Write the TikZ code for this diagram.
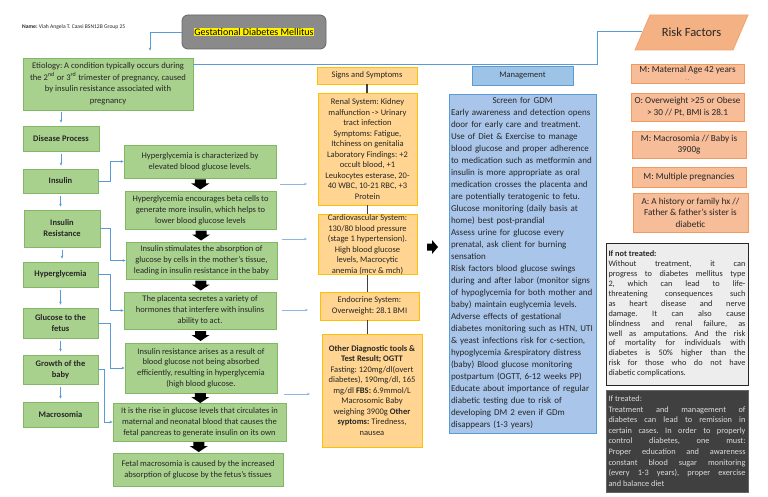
\documentclass[tikz,border=0pt]{standalone}
\usepackage{fontspec}
\setmainfont{Carlito}
\usetikzlibrary{arrows.meta,shapes.geometric,calc}
\frenchspacing
\definecolor{grn}{HTML}{A9D18E}
\definecolor{grnD}{HTML}{82B863}
\definecolor{org}{HTML}{FFD591}
\definecolor{orgD}{HTML}{FFC000}
\definecolor{blu}{HTML}{A9C6EA}
\definecolor{bluH}{HTML}{9DC3E6}
\definecolor{bluD}{HTML}{5B9BD5}
\definecolor{sal}{HTML}{F7BC98}
\definecolor{salD}{HTML}{F09A5E}
\definecolor{salP}{HTML}{F4B183}
\definecolor{salPD}{HTML}{F2A36E}
\definecolor{txt}{HTML}{262626}
\definecolor{conn}{HTML}{5B9BD5}
\definecolor{connL}{HTML}{8DB6E2}
\definecolor{dgr}{HTML}{404040}
\definecolor{lgr}{HTML}{EDEDED}
\definecolor{titg}{HTML}{8A8A8A}
\definecolor{titgD}{HTML}{666666}
\definecolor{trtxt}{HTML}{DCDCDC}
\setlength{\fboxsep}{0.6pt}
\tikzset{
  every node/.style={inner sep=0pt, text=txt},
  gbox/.style={draw=grnD, fill=grn, line width=0.8pt, align=center, font=\fontsize{8.5}{10.8}\selectfont},
  gboxb/.style={gbox, font=\bfseries\fontsize{8.5}{11}\selectfont},
  obox/.style={draw=orgD, fill=org, line width=0.9pt, align=center, font=\fontsize{8.5}{10.5}\selectfont},
  mbox/.style={draw=bluD, fill=blu, line width=0.8pt},
  rbox/.style={draw=salD, fill=sal, line width=0.8pt, align=center, font=\fontsize{9.2}{11.5}\selectfont},
  barr/.style={draw=conn, line width=0.7pt, -{Stealth[length=3pt,width=2.6pt]}},
  barrL/.style={draw=connL, line width=0.7pt, -{Stealth[length=3pt,width=2.6pt]}},
  bline/.style={draw=conn, line width=0.8pt},
  gline/.style={draw=dgr, line width=1.6pt},
  darr/.pic={\fill[black] (-5.5,-5) -- (5.5,-5) -- (5.5,-1) -- (9,-1) -- (0,5) -- (-9,-1) -- (-5.5,-1) -- cycle;}
}
\begin{document}
\begin{tikzpicture}[x=1pt,y=-1pt]
\useasboundingbox (0,0) rectangle (768,497);
\fill[white] (0,0) rectangle (768,497);

% name
\node[anchor=west, font=\fontsize{5.6}{6}\selectfont] (nm) at (22,27) {\textbf{Name:} Viah Angela T. Caasi BSN12B Group 25};

% title
\node[draw=titgD, fill=titg, line width=0.8pt, rounded corners=6pt, minimum width=144pt, minimum height=34pt, font=\fontsize{10}{12}\selectfont, text=black] (tit) at (254,32) {\colorbox{yellow}{Gestational Diabetes Mellitus}};

% left column
\node[gbox, minimum width=170pt, minimum height=52pt, font=\fontsize{8.6}{11.5}\selectfont] (ety) at (108,84) {Etiology: A condition typically occurs during\\the 2\textsuperscript{nd} or 3\textsuperscript{rd} trimester of pregnancy, caused\\by insulin resistance associated with\\pregnancy};
\node[gboxb, minimum width=76pt, minimum height=25pt] (dp) at (61,138.5) {Disease Process};
\node[gboxb, minimum width=75pt, minimum height=24pt] (ins) at (60.5,181) {Insulin};
\node[gboxb, minimum width=76pt, minimum height=37pt] (ir) at (62,228.5) {Insulin\\Resistance};
\node[gboxb, minimum width=75pt, minimum height=25pt] (hyp) at (60.5,274.5) {Hyperglycemia};
\node[gboxb, minimum width=75pt, minimum height=30pt] (gtf) at (60.5,323) {Glucose to the\\fetus};
\node[gboxb, minimum width=75pt, minimum height=29pt] (gob) at (60.5,369.5) {Growth of the\\baby};
\node[gboxb, minimum width=75pt, minimum height=25pt] (mac) at (60.5,414.5) {Macrosomia};

% right green column
\node[gbox, minimum width=152pt, minimum height=33pt] (r1) at (200,161.5) {Hyperglycemia is characterized by\\elevated blood glucose levels.};
\node[gbox, minimum width=151pt, minimum height=38pt] (r2) at (200.5,210) {Hyperglycemia encourages beta cells to\\generate more insulin, which helps to\\lower blood glucose levels};
\node[gbox, minimum width=151pt, minimum height=37pt] (r3) at (201.5,260.5) {Insulin stimulates the absorption of\\glucose by cells in the mother’s tissue,\\leading in insulin resistance in the baby};
\node[gbox, minimum width=152pt, minimum height=37pt] (r4) at (200,310.5) {The placenta secretes a variety of\\hormones that interfere with insulins\\ability to act.};
\node[gbox, minimum width=152pt, minimum height=50pt] (r5) at (201,368) {Insulin resistance arises as a result of\\blood glucose not being absorbed\\efficiently, resulting in hyperglycemia\\(high blood glucose.};
\node[gbox, minimum width=173pt, minimum height=38pt] (r6) at (199.5,422) {It is the rise in glucose levels that circulates in\\maternal and neonatal blood that causes the\\fetal pancreas to generate insulin on its own};
\node[gbox, minimum width=170pt, minimum height=33pt] (r7) at (198,469.5) {Fetal macrosomia is caused by the increased\\absorption of glucose by the fetus’s tissues};

% block down arrows
\pic at ($(r1.south)!0.5!(r2.north)$) {darr};
\pic at ($(r2.south)!0.5!(r3.north)$) {darr};
\pic at ($(r3.south)!0.5!(r4.north)$) {darr};
\pic at ($(r4.south)!0.5!(r5.north)$) {darr};
\pic at ($(r5.south)!0.5!(r6.north)$) {darr};
\pic at ($(r6.south)!0.5!(r7.north)$) {darr};

% connectors left column
\draw[barr, shorten >=7pt] (tit.west) -| ([xshift=42pt]ety.north);
\draw[barr, shorten <=2pt, shorten >=3pt] (ety.south -| dp.north) -- (dp.north);
\draw[barr, shorten <=3pt, shorten >=3pt] (dp.south) -- (dp.south |- ins.north);
\draw[barr, shorten <=3pt, shorten >=3pt] (ins.south) -- (ins.south |- ir.north);
\draw[barr, shorten <=3pt, shorten >=3pt] (ir.south) -- (ir.south |- hyp.north);
\draw[barr, shorten <=3pt, shorten >=3pt] (hyp.south) -- (hyp.south |- gtf.north);
\draw[barr, shorten <=3pt, shorten >=3pt] (gtf.south) -- (gtf.south |- gob.north);
\draw[barr, shorten <=3pt, shorten >=3pt] (gob.south) -- (gob.south |- mac.north);

\draw[barr] (ins.east) -- ([xshift=12pt]ins.east) |- (r1.west);
\draw[barr] (ir.east) -- ([xshift=10pt]ir.east) |- (r3.west);
\draw[barr] (hyp.east) -- ([xshift=12pt]hyp.east) |- (r4.west);
\draw[barr] (gtf.east) -- ([xshift=12pt]gtf.east) |- (r5.west);
\draw[barr] (gob.east) -- ([xshift=6pt]gob.east) |- (r6.west);

% floating arrows
\coordinate (f1a) at (280,184); \coordinate (f1b) at (307,184);
\coordinate (f2a) at (282,239); \coordinate (f2b) at (307,239);
\coordinate (f3a) at (282,310); \coordinate (f3b) at (308,310);
\coordinate (f4a) at (284,394); \coordinate (f4b) at (310,394);
\draw[barrL] (f1a) -- (f1b);
\draw[barrL] (f2a) -- (f2b);
\draw[barrL] (f3a) -- (f3b);
\draw[barrL] (f4a) -- (f4b);

% signs and symptoms
\node[obox, minimum width=100pt, minimum height=17pt] (ssh) at (367,75.5) {Signs and Symptoms};
\node[obox, minimum width=99pt, minimum height=112pt] (ren) at (367.5,149) {Renal System: Kidney\\malfunction -> Urinary\\tract infection\\Symptoms: Fatigue,\\Itchiness on genitalia\\Laboratory Findings: +2\\occult blood, +1\\Leukocytes esterase, 20-\\40 WBC, 10-21 RBC, +3\\Protein};
\node[obox, minimum width=99pt, minimum height=59pt] (car) at (367.5,244.5) {Cardiovascular System:\\130/80 blood pressure\\(stage 1 hypertension).\\High blood glucose\\levels, Macrocytic\\anemia (mcv \& mch)};
\node[obox, minimum width=99pt, minimum height=28pt] (endo) at (369.5,306) {Endocrine System:\\Overweight: 28.1 BMI};
\node[obox, minimum width=100pt, minimum height=113pt] (oth) at (372,390.5) {\textbf{Other Diagnostic tools \&}\\\textbf{Test Result; OGTT}\\Fasting: 120mg/dl(overt\\diabetes), 190mg/dl, 165\\mg/dl \textbf{FBS:} 6.9mmol/L\\Macrosomic Baby\\weighing 3900g \textbf{Other}\\\textbf{syptoms:} Tiredness,\\nausea};
\draw[gline] (ssh.south) -- (ssh.south |- ren.north);
\draw[gline] (ren.south) -- (ren.south |- car.north);
\draw[gline] (car.south) -- (car.south |- endo.north);
\draw[gline] (car.south |- endo.south) -- (car.south |- oth.north);

% block right arrow
\fill[black] (427,243.5) -- (432,243.5) -- (432,240) -- (438,247) -- (432,254) -- (432,250.5) -- (427,250.5) -- cycle;

% management
\node[mbox, fill=bluH, minimum width=101pt, minimum height=19pt, font=\fontsize{8.5}{10}\selectfont] (mh) at (522.5,75.5) {Management};
\node[mbox, minimum width=147pt, minimum height=339pt, text width=143pt, align=left, font=\fontsize{9}{12}\selectfont] (mb) at (522.5,263.5) {\makebox[143pt]{Screen for GDM}\\
Early awareness and detection opens\\
door for early care and treatment.\\
Use of Diet \& Exercise to manage\\
blood glucose and proper adherence\\
to medication such as metformin and\\
insulin is more appropriate as oral\\
medication crosses the placenta and\\
are potentially teratogenic to fetu.\\
Glucose monitoring (daily basis at\\
home) best post-prandial\\
Assess urine for glucose every\\
prenatal, ask client for burning\\
sensation\\
Risk factors blood glucose swings\\
during and after labor (monitor signs\\
of hypoglycemia for both mother and\\
baby) maintain euglycemia levels.\\
Adverse effects of gestational\\
diabetes monitoring such as HTN, UTI\\
\& yeast infections risk for c-section,\\
hypoglycemia \&respiratory distress\\
(baby) Blood glucose monitoring\\
postpartum (OGTT, 6-12 weeks PP)\\
Educate about importance of regular\\
diabetic testing due to risk of\\
developing DM 2 even if GDm\\
disappears (1-3 years)};

% risk factors
\fill[salP] (650,15) -- (748,15) -- (733,50) -- (635,50) -- cycle;
\draw[salPD, line width=0.8pt] (650,15) -- (748,15) -- (733,50) -- (635,50) -- cycle;
\node[font=\fontsize{12.5}{14}\selectfont] (rf) at (691.5,32.5) {Risk Factors};
\coordinate (rfl) at (642,31);
\draw[bline] ([yshift=20pt]ety.east) -- (597,64) |- (rfl);

\node[rbox, minimum width=113pt, minimum height=19pt] (rf1) at (687.5,73.5) {M: Maternal Age 42 years\\[-4pt]{\fontsize{5}{5}\selectfont . .}};
\node[rbox, minimum width=113pt, minimum height=28pt] (rf2) at (687.5,107) {O: Overweight >25 or Obese\\> 30 // Pt, BMI is 28.1};
\node[rbox, minimum width=114pt, minimum height=27pt] (rf3) at (689,144.5) {M: Macrosomia // Baby is\\3900g};
\node[rbox, minimum width=114pt, minimum height=20pt] (rf4) at (689,177) {M: Multiple pregnancies};
\node[rbox, minimum width=115pt, minimum height=39pt] (rf5) at (690.5,212.5) {A: A history or family hx //\\Father \& father’s sister is\\diabetic};

% treated / not treated
\node[draw=black!85, fill=lgr, line width=0.9pt, minimum width=142pt, minimum height=142pt, text width=137pt, align=justify, font=\frenchspacing\fontsize{8.3}{9.9}\selectfont] (nt) at (677,314) {\textbf{If not treated:}\\
Without treatment, it can\linebreak
progress to diabetes mellitus type\linebreak
2, which can lead to life-\linebreak
threatening consequences such\linebreak
as heart disease and nerve\linebreak
damage. It can also cause\linebreak
blindness and renal failure, as\linebreak
well as amputations. And the risk\linebreak
of mortality for individuals with\linebreak
diabetes is 50\% higher than the\linebreak
risk for those who do not have\linebreak
diabetic complications.};
\node[draw=black!60, fill=dgr, line width=0.9pt, minimum width=142pt, minimum height=102pt, text width=137pt, align=justify, text=trtxt, font=\frenchspacing\fontsize{8.3}{10.6}\selectfont] (tr) at (677,441) {If treated:\\
Treatment and management of\linebreak
diabetes can lead to remission in\linebreak
certain cases. In order to properly\linebreak
control diabetes, one must:\linebreak
Proper education and awareness\linebreak
constant blood sugar monitoring\linebreak
(every 1-3 years), proper exercise\linebreak
and balance diet};
\end{tikzpicture}
\end{document}
